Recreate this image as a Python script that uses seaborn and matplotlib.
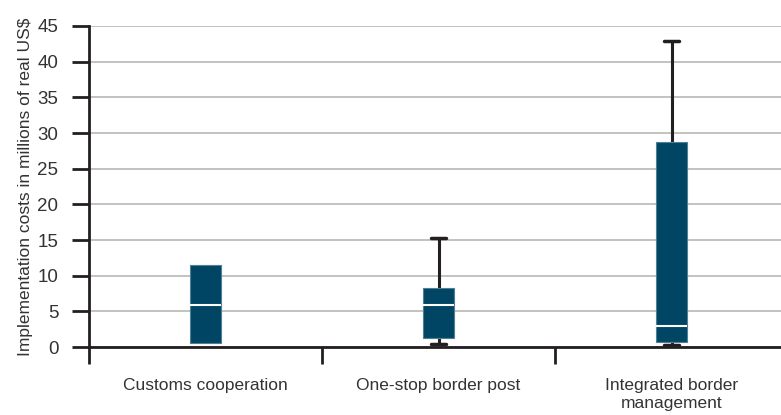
import numpy as np
import pandas as pd
import matplotlib
matplotlib.use('Agg')
import matplotlib.pyplot as plt
import seaborn as sns

# five-number summaries (min, q1, median, q3, max)
categories = ['Customs cooperation', 'One-stop border post', 'Integrated border\nmanagement']
customs = [0.55, 0.55, 5.9, 11.5, 11.5]
osbp = [0.4, 1.25, 5.9, 8.3, 15.3]
ibm = [0.3, 0.7, 2.95, 28.8, 42.9]

df = pd.DataFrame({
    'measure': np.repeat(categories, 5),
    'cost': customs + osbp + ibm,
})

sns.set_style('ticks')
plt.rcParams['font.family'] = ['Liberation Sans', 'DejaVu Sans']

BOX = '#004664'
TXT = '#333333'
INK = '#231f20'

fig = plt.figure(figsize=(7.81, 4.15), dpi=100)
ax = fig.add_axes([89 / 781, 68 / 415, 699 / 781, 321 / 415])

sns.boxplot(data=df, x='measure', y='cost', order=categories, ax=ax,
            whis=np.inf, width=0.135, color=BOX, saturation=1,
            linewidth=2,
            boxprops=dict(facecolor=BOX, edgecolor='#4f7f95', linewidth=0.8, zorder=3),
            medianprops=dict(color='white', linewidth=1.5, zorder=4),
            whiskerprops=dict(color=INK, linewidth=2.2, zorder=1.5),
            capprops=dict(color=INK, linewidth=2.5, zorder=1.5))

# customs cooperation has no whiskers: hide its caps sitting on the box edges
for ln in ax.lines:
    xd = np.asarray(ln.get_xdata(), dtype=float)
    yd = np.asarray(ln.get_ydata(), dtype=float)
    if len(xd) == 2 and abs(xd.mean()) < 0.3 and yd[0] == yd[1] and yd[0] in (customs[0], customs[-1]):
        ln.set_visible(False)

ax.set_xlim(-0.5, 2.5)
ax.set_ylim(0, 45)
ax.set_yticks(range(0, 46, 5))
ax.yaxis.grid(True, color='#b8b8b8', linewidth=1.2)
ax.set_axisbelow(True)

for s in ['top', 'right']:
    ax.spines[s].set_visible(False)
for s in ['left', 'bottom']:
    ax.spines[s].set_color(INK)
    ax.spines[s].set_linewidth(2)

ax.set_xticks([0, 1, 2])
ax.set_xticklabels(categories)
ax.set_xticks([-0.5, 0.5, 1.5], minor=True)
ax.tick_params(axis='x', which='major', bottom=True, length=0, pad=22, labelsize=12.5, labelcolor=TXT)
ax.tick_params(axis='x', which='minor', bottom=True, length=12, width=2, color=INK, direction='out')
ax.tick_params(axis='y', left=True, length=12, width=2, color=INK, direction='out',
               pad=10, labelsize=13.5, labelcolor=TXT)
for lab in ax.get_xticklabels():
    lab.set_linespacing(1.3)

ax.set_xlabel('')
ax.set_ylabel('Implementation costs in millions of real US$', fontsize=12.5, color=TXT, labelpad=3)

fig.savefig('out.png', dpi=100)
